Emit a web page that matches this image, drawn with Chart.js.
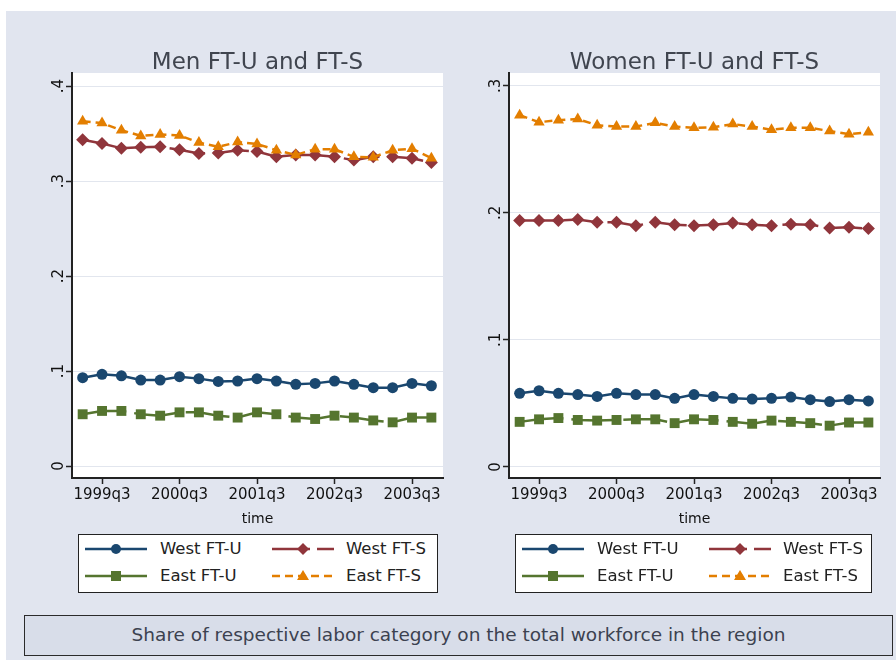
<!DOCTYPE html>
<html>
<head>
<meta charset="utf-8">
<script src="https://cdn.jsdelivr.net/npm/chart.js@4.4.0/dist/chart.umd.min.js"></script>
<style>
  body { margin: 0; width: 896px; height: 660px; position: relative; overflow: hidden; background: #fff; font-family: "DejaVu Sans", sans-serif; }
  #bg { position: absolute; left: 6px; top: 11px; width: 890px; height: 649px; background: #e1e5ef; }
  canvas { position: absolute; top: 30px; }
  #menChart { left: 0; }
  #womenChart { left: 450px; }
  .legend { position: absolute; top: 534px; width: 360px; height: 59px; background: #fff; border: 1.5px solid #222; box-sizing: border-box; }
  .legend svg { position: absolute; }
  .legend span { position: absolute; font-size: 16.5px; line-height: 20px; color: #222; white-space: nowrap; }
  #menLegend { left: 78px; }
  #womenLegend { left: 515px; width: 357px; }
  #caption { position: absolute; left: 24px; top: 615px; width: 869px; height: 41px; box-sizing: border-box; border: 1.5px solid #2b2b2b; background: #d8dde9; color: #3c4250; font-size: 18.5px; line-height: 38px; text-align: center; }
</style>
</head>
<body>
<div id="bg"></div>
<canvas id="menChart" width="450" height="510"></canvas>
<canvas id="womenChart" width="446" height="510"></canvas>
<div class="legend" id="menLegend"></div>
<div class="legend" id="womenLegend"></div>
<div id="caption">Share of respective labor category on the total workforce in the region</div>
<script>
// quarters 1999q2 .. 2003q4
const quarters = ['1999q2', '1999q3', '1999q4', '2000q1', '2000q2', '2000q3', '2000q4',
    '2001q1', '2001q2', '2001q3', '2001q4', '2002q1', '2002q2', '2002q3', '2002q4',
    '2003q1', '2003q2', '2003q3', '2003q4'];
const xTickLabels = ['1999q3', '2000q3', '2001q3', '2002q3', '2003q3'];
const seriesNames = ['West FT-U', 'West FT-S', 'East FT-U', 'East FT-S'];

// Men
const menWestU = [0.093, 0.0965, 0.095, 0.0905, 0.0905, 0.094, 0.092, 0.089, 0.0895, 0.092,
    0.0895, 0.086, 0.087, 0.0895, 0.086, 0.0825, 0.0825, 0.087, 0.0845];
const menWestS = [0.3435, 0.3395, 0.3345, 0.3355, 0.336, 0.333, 0.329, 0.3295, 0.3325, 0.331,
    0.3255, 0.3275, 0.3275, 0.3255, 0.322, 0.3255, 0.3255, 0.324, 0.3195];
const menEastU = [0.0545, 0.058, 0.058, 0.0545, 0.053, 0.0565, 0.0565, 0.053, 0.051, 0.0565,
    0.0545, 0.051, 0.0495, 0.053, 0.051, 0.048, 0.046, 0.051, 0.051];
const menEastS = [0.363, 0.361, 0.3535, 0.3475, 0.349, 0.348, 0.3405, 0.336, 0.341, 0.339,
    0.3325, 0.3275, 0.3335, 0.3335, 0.3255, 0.325, 0.3325, 0.334, 0.324];

// Women
const womenWestU = [0.058, 0.060, 0.058, 0.057, 0.0555, 0.058, 0.057, 0.057, 0.054, 0.057,
    0.0555, 0.054, 0.0535, 0.054, 0.055, 0.053, 0.0515, 0.053, 0.052];
const womenWestS = [0.194, 0.194, 0.194, 0.1948, 0.1927, 0.1927, 0.190, 0.1927, 0.1908, 0.190,
    0.1908, 0.1921, 0.1908, 0.190, 0.1912, 0.1908, 0.1882, 0.1887, 0.1877];
const womenEastU = [0.0355, 0.0375, 0.0385, 0.037, 0.0365, 0.037, 0.0375, 0.0375, 0.0345, 0.0375,
    0.037, 0.0355, 0.034, 0.0365, 0.0355, 0.0345, 0.0325, 0.035, 0.035];
const womenEastS = [0.277, 0.2715, 0.273, 0.274, 0.269, 0.268, 0.268, 0.271, 0.268, 0.267,
    0.2675, 0.270, 0.268, 0.2655, 0.267, 0.267, 0.2645, 0.262, 0.2635];

const menYTicks = [0, 0.1, 0.2, 0.3, 0.4];
const menYLabels = ['0', '.1', '.2', '.3', '.4'];
const womenYTicks = [0, 0.1, 0.2, 0.3];
const womenYLabels = ['0', '.1', '.2', '.3'];

const FONT = '"DejaVu Sans", sans-serif';
const styles = [
    { color: '#1a476f', point: 'circle', radius: 5.5, dash: [], legendDash: '', order: 4 },
    { color: '#90353b', point: 'rectRot', radius: 6.5, dash: [36, 8], legendDash: '38 7', order: 3 },
    { color: '#55752f', point: 'rect', radius: 7, dash: [44, 8], legendDash: '', order: 2 },
    { color: '#e37e00', point: 'triangle', radius: 6.5, dash: [8, 5], legendDash: '8 5', order: 1 }
];

// white plot region
const plotBg = {
    id: 'plotBg',
    beforeDraw(chart) {
        const a = chart.chartArea;
        const ctx = chart.ctx;
        ctx.save();
        ctx.fillStyle = '#ffffff';
        ctx.fillRect(a.left, a.top, a.right - a.left, a.bottom - a.top);
        ctx.restore();
    }
};

// Stata-style vertical y labels
const yLabelsPlugin = {
    id: 'yLabels',
    afterDraw(chart, args, opts) {
        const scale = chart.scales.y;
        const ctx = chart.ctx;
        ctx.save();
        ctx.font = '15px ' + FONT;
        ctx.fillStyle = '#111';
        ctx.textAlign = 'center';
        ctx.textBaseline = 'alphabetic';
        scale.ticks.forEach((t, i) => {
            ctx.save();
            ctx.translate(chart.chartArea.left - 9, scale.getPixelForValue(t.value));
            ctx.rotate(-Math.PI / 2);
            ctx.fillText(opts.labels[i], 0, 0);
            ctx.restore();
        });
        ctx.restore();
    }
};

function panel(id, title, series, yTicks, yLabels, yMin, yMax, pad) {
    new Chart(document.getElementById(id), {
        type: 'line',
        data: {
            datasets: series.map((vals, k) => ({
                label: seriesNames[k],
                data: vals.map((v, i) => ({ x: i, y: v })),
                borderColor: styles[k].color,
                backgroundColor: styles[k].color,
                borderWidth: 2.5,
                borderDash: styles[k].dash,
                pointStyle: styles[k].point,
                pointRadius: styles[k].radius,
                pointBorderWidth: 0,
                pointBackgroundColor: styles[k].color,
                tension: 0,
                order: styles[k].order
            }))
        },
        options: {
            responsive: false,
            animation: false,
            layout: { padding: pad },
            plugins: {
                legend: { display: false },
                tooltip: { enabled: false },
                title: {
                    display: true,
                    text: title,
                    fullSize: false,
                    color: '#40454f',
                    font: { family: FONT, size: 23, weight: 'normal', lineHeight: 0.9 },
                    padding: { top: 22.3, bottom: 0 }
                },
                yLabels: { labels: yLabels }
            },
            scales: {
                x: {
                    type: 'linear',
                    min: -0.55,
                    max: 18.6,
                    afterBuildTicks: s => { s.ticks = xTickLabels.map(l => ({ value: quarters.indexOf(l) })); },
                    afterFit: s => { s.height = 62; },
                    ticks: {
                        callback: v => quarters[v],
                        autoSkip: false, maxRotation: 0, minRotation: 0, padding: 2,
                        color: '#111', font: { family: FONT, size: 15 }
                    },
                    grid: { drawOnChartArea: false, drawTicks: true, tickLength: 6, tickColor: '#222', tickWidth: 1.5 },
                    border: { display: true, color: '#222', width: 2 },
                    title: {
                        display: true, text: 'time', color: '#111',
                        font: { family: FONT, size: 14 }, padding: { top: 0, bottom: 12 }
                    }
                },
                y: {
                    type: 'linear',
                    min: yMin,
                    max: yMax,
                    afterBuildTicks: s => { s.ticks = yTicks.map(v => ({ value: v })); },
                    afterFit: s => { s.width = 40; },
                    ticks: { display: false },
                    grid: { color: '#e2e6ee', lineWidth: 1, drawTicks: true, tickLength: 6, tickColor: '#222', tickWidth: 1.5 },
                    border: { display: true, color: '#222', width: 2 }
                }
            }
        },
        plugins: [plotBg, yLabelsPlugin]
    });
}

function marker(kind, color) {
    if (kind === 'circle') return `<circle cx="31" cy="7" r="5" fill="${color}"/>`;
    if (kind === 'rectRot') return `<polygon points="31,1 37,7 31,13 25,7" fill="${color}"/>`;
    if (kind === 'rect') return `<rect x="26" y="2" width="10" height="10" fill="${color}"/>`;
    return `<polygon points="31,1 37,11 25,11" fill="${color}"/>`;
}

function buildLegend(id) {
    const box = document.getElementById(id);
    seriesNames.forEach((name, k) => {
        const col = k % 2;
        const row = Math.floor(k / 2);
        const st = styles[k];
        const top = row === 0 ? 6 : 33;
        const svg = document.createElementNS('http://www.w3.org/2000/svg', 'svg');
        svg.setAttribute('width', '62');
        svg.setAttribute('height', '14');
        svg.style.left = (col === 0 ? 6 : 193) + 'px';
        svg.style.top = (top + 1) + 'px';
        svg.innerHTML = `<line x1="0" y1="7" x2="62" y2="7" stroke="${st.color}" stroke-width="2.5"` +
            (st.legendDash ? ` stroke-dasharray="${st.legendDash}"` : '') + '/>' + marker(st.point, st.color);
        box.appendChild(svg);
        const span = document.createElement('span');
        span.textContent = name;
        span.style.left = (col === 0 ? 81 : 267) + 'px';
        span.style.top = (top - 2) + 'px';
        box.appendChild(span);
    });
}

panel('menChart', 'Men FT-U and FT-S', [menWestU, menWestS, menEastU, menEastS],
    menYTicks, menYLabels, -0.0126, 0.4137, { left: 32, right: 7, top: 0, bottom: 0 });
panel('womenChart', 'Women FT-U and FT-S', [womenWestU, womenWestS, womenEastU, womenEastS],
    womenYTicks, womenYLabels, -0.0087, 0.3102, { left: 19, right: 16, top: 0, bottom: 0 });
buildLegend('menLegend');
buildLegend('womenLegend');
</script>
</body>
</html>
